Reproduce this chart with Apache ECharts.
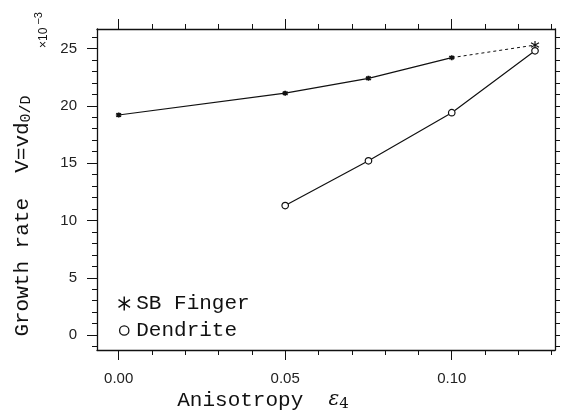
<!DOCTYPE html>
<html>
<head>
<meta charset="utf-8">
<script src="https://cdn.jsdelivr.net/npm/echarts@6/dist/echarts.min.js"></script>
<style>
html,body{margin:0;padding:0;background:#fff;}
#chart{width:561px;height:419px;}
</style>
</head>
<body>
<div id="chart"></div>
<script>
// ---- data ----
var sbX = [0.0, 0.05, 0.075, 0.10];
var sbY = [19.2, 21.1, 22.4, 24.2];
var sbExtX = [0.10, 0.125];
var sbExtY = [24.2, 25.3];
var dendX = [0.05, 0.075, 0.10, 0.125];
var dendY = [11.3, 15.2, 19.4, 24.8];
var xMajor = [0.0, 0.05, 0.10];
var xMinor = [0.01, 0.02, 0.03, 0.04, 0.06, 0.07, 0.08, 0.09, 0.11, 0.12, 0.13];
var yMajor = [0, 5, 10, 15, 20, 25];
var yMinor = [-1, 1, 2, 3, 4, 6, 7, 8, 9, 11, 12, 13, 14, 16, 17, 18, 19, 21, 22, 23, 24, 26];
var yAll = [-1, 0, 1, 2, 3, 4, 5, 6, 7, 8, 9, 10, 11, 12, 13, 14, 15, 16, 17, 18, 19, 20, 21, 22, 23, 24, 25, 26];

function pairs(xs, ys) { return xs.map(function (x, i) { return [x, ys[i]]; }); }

var ASTER = 'path://M0,-1L0,1M-0.82,-0.57L0.82,0.57M-0.82,0.57L0.82,-0.57';
var CIRC = 'path://M-1.5,-1.5L-1.5,-1.5M1.5,1.5L1.5,1.5M0,-1A1,1,0,1,1,0,1A1,1,0,1,1,0,-1Z';

var X0 = -0.0065, X1 = 0.131, Y0 = -1.3, Y1 = 26.7;
var INK = '#111';
var MONO = '"Liberation Mono", "DejaVu Sans Mono", monospace';

function xAx(pos, ticks, len, labels, line) {
  return {
    type: 'value', position: pos, min: X0, max: X1,
    axisLine: { show: line, onZero: false, lineStyle: { color: INK, width: 1.3 } },
    axisTick: { show: true, customValues: ticks, length: len, lineStyle: { color: INK, width: 1 } },
    axisLabel: labels ? { show: true, customValues: ticks, formatter: function (v) { return v.toFixed(2); },
      margin: 21, fontSize: 15, color: '#222', fontFamily: '"Liberation Sans", Arial, sans-serif' } : { show: false },
    splitLine: { show: false }
  };
}
function yAx(pos, ticks, len, labels, line) {
  return {
    type: 'value', position: pos, min: Y0, max: Y1,
    axisLine: { show: line, onZero: false, lineStyle: { color: INK, width: 1.3 } },
    axisTick: { show: true, customValues: ticks, length: len, lineStyle: { color: INK, width: 1 } },
    axisLabel: labels ? { show: true, customValues: ticks, margin: 20, fontSize: 15, color: '#222',
      fontFamily: '"Liberation Sans", Arial, sans-serif' } : { show: false },
    splitLine: { show: false }
  };
}

var chart = echarts.init(document.getElementById('chart'), null, { renderer: 'canvas' });
chart.setOption({
  backgroundColor: '#fff',
  animation: false,
  grid: { left: 97, right: 6, top: 29, bottom: 69, containLabel: false },
  xAxis: [
    xAx('bottom', xMajor, 10, true, true),
    xAx('bottom', xMinor, 5, false, false),
    xAx('top', xMajor, 10, false, true),
    xAx('top', xMinor, 5, false, false)
  ],
  yAxis: [
    yAx('left', yMajor, 10, true, true),
    yAx('left', yMinor, 5, false, false),
    yAx('right', yAll, 5, false, true)
  ],
  legend: {
    orient: 'vertical', left: 111, top: 288, itemWidth: 14, itemHeight: 14, itemGap: 6,
    textStyle: { fontFamily: MONO, fontSize: 21, color: INK },
    data: [
      { name: 'SB Finger', icon: ASTER, itemStyle: { color: 'none', borderColor: INK, borderWidth: 1.5 } },
      { name: 'Dendrite', icon: CIRC, itemStyle: { color: '#fff', borderColor: INK, borderWidth: 1.3 } }
    ]
  },
  series: [
    {
      name: 'SB Finger', type: 'line', xAxisIndex: 0, yAxisIndex: 0,
      data: pairs(sbX, sbY), symbol: ASTER, symbolSize: 5, showAllSymbol: true,
      lineStyle: { color: INK, width: 1.2 },
      itemStyle: { color: INK, borderColor: INK, borderWidth: 1.8 }
    },
    {
      name: 'SB Finger ext', type: 'line', xAxisIndex: 0, yAxisIndex: 0,
      data: pairs(sbExtX, sbExtY),
      symbol: function (v, p) { return p.dataIndex === 1 ? ASTER : 'none'; },
      symbolSize: 8,
      lineStyle: { color: INK, width: 1, type: [3, 3] },
      itemStyle: { color: 'none', borderColor: INK, borderWidth: 1.2 }
    },
    {
      name: 'Dendrite', type: 'line', xAxisIndex: 0, yAxisIndex: 0,
      data: pairs(dendX, dendY), symbol: 'circle', symbolSize: 6.5, showAllSymbol: true,
      lineStyle: { color: INK, width: 1.2 },
      itemStyle: { color: '#fff', borderColor: INK, borderWidth: 1.2 }
    }
  ],
  graphic: [
    {
      type: 'text', x: 22, y: 216, rotation: Math.PI / 2,
      style: {
        text: 'Growth rate  V=vd{s|0/D}',
        fontFamily: MONO, fontSize: 21, fill: INK, align: 'center', verticalAlign: 'middle',
        rich: { s: { fontFamily: MONO, fontSize: 15, fill: INK, padding: [9, 0, 0, 0] } }
      }
    },
    {
      type: 'text', x: 44, y: 30, rotation: Math.PI / 2,
      style: {
        text: '×10{p|−3}', fontFamily: '"Liberation Sans", Arial, sans-serif', fontSize: 12, fill: INK,
        align: 'center', verticalAlign: 'middle',
        rich: { p: { fontSize: 11, fill: INK, padding: [0, 0, 10, 3] } }
      }
    },
    {
      type: 'text', x: 263, y: 400,
      style: {
        text: 'Anisotropy  {e|ε}{s|4}',
        fontFamily: MONO, fontSize: 21, fill: INK, align: 'center', verticalAlign: 'middle',
        rich: {
          e: { fontFamily: '"DejaVu Serif", serif', fontStyle: 'italic', fontSize: 20, fill: INK },
          s: { fontFamily: '"DejaVu Serif", serif', fontSize: 15, fill: INK, padding: [9, 0, 0, 0] }
        }
      }
    }
  ]
});
</script>
</body>
</html>
